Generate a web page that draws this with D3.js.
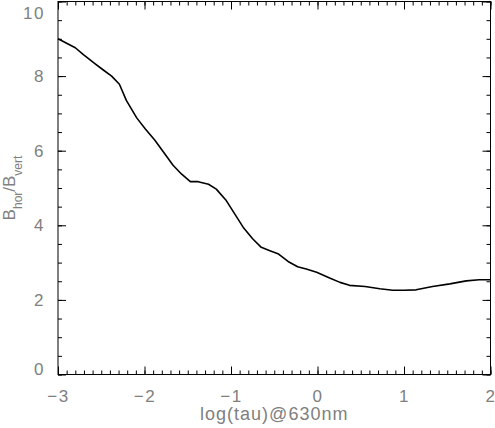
<!DOCTYPE html>
<html>
<head>
<meta charset="utf-8">
<script src="https://cdn.jsdelivr.net/npm/d3@7"></script>
<style>
  body { margin: 0; background: #fff; }
  svg text { font-family: "Liberation Sans", Arial, sans-serif; fill: #808080; }
</style>
</head>
<body>
<div id="container"></div>
<script>
// values
const logTau = [-3.0, -2.80, -2.71, -2.57, -2.48, -2.38, -2.29, -2.21, -2.09, -1.99, -1.88, -1.76, -1.67, -1.57,
  -1.47, -1.38, -1.26, -1.17, -1.06, -0.95, -0.86, -0.75, -0.65, -0.55, -0.45, -0.34, -0.23, -0.13, -0.01,
  0.14, 0.26, 0.37, 0.55, 0.72, 0.87, 1.0, 1.14, 1.33, 1.53, 1.72, 1.87, 2.0];
const ratio = [9.0, 8.76, 8.58, 8.33, 8.17, 8.0, 7.78, 7.35, 6.88, 6.58, 6.28, 5.90, 5.61, 5.37,
  5.17, 5.17, 5.10, 4.97, 4.68, 4.28, 3.95, 3.64, 3.41, 3.32, 3.23, 3.03, 2.89, 2.83, 2.74,
  2.59, 2.47, 2.39, 2.36, 2.30, 2.26, 2.26, 2.27, 2.36, 2.43, 2.51, 2.54, 2.54];
const xTicks = [-3, -2, -1, 0, 1, 2];
const yTicks = [0, 2, 4, 6, 8, 10];

const width = 495, height = 428;
const plotL = 58, plotR = 490.5, plotT = 1.5, plotB = 374.5;

const svg = d3.select("#container")
  .append("svg")
  .attr("width", width)
  .attr("height", height);

let x = d3.scaleLinear().domain([-3, 2]).range([plotL, plotR]);
let y = d3.scaleLinear().domain([0, 10]).range([plotB, plotT]);

let xMinor = d3.range(-30, 21).map(d => d / 10);
let yMinor = d3.range(0, 21).map(d => d / 2);

let styleAxis = g => {
  g.select(".domain").remove();
  g.selectAll("line").attr("stroke", "#000").attr("stroke-width", 1);
};

// minor ticks on all four sides
svg.append("g").attr("transform", `translate(0,${plotB})`)
  .call(d3.axisBottom(x).tickValues(xMinor).tickSize(-4).tickFormat(""))
  .call(styleAxis);
svg.append("g").attr("transform", `translate(0,${plotT})`)
  .call(d3.axisTop(x).tickValues(xMinor).tickSize(-4).tickFormat(""))
  .call(styleAxis);
svg.append("g").attr("transform", `translate(${plotL},0)`)
  .call(d3.axisLeft(y).tickValues(yMinor).tickSize(-4).tickFormat(""))
  .call(styleAxis);
svg.append("g").attr("transform", `translate(${plotR},0)`)
  .call(d3.axisRight(y).tickValues(yMinor).tickSize(-4).tickFormat(""))
  .call(styleAxis);

// major ticks
let fmt = d => d < 0 ? "\u2212" + Math.abs(d) : String(d);
svg.append("g").attr("transform", `translate(0,${plotB})`)
  .call(d3.axisBottom(x).tickValues(xTicks).tickSize(-8).tickPadding(15).tickFormat(fmt))
  .call(styleAxis);
svg.append("g").attr("transform", `translate(0,${plotT})`)
  .call(d3.axisTop(x).tickValues(xTicks).tickSize(-8).tickFormat(""))
  .call(styleAxis);
let yAxisL = svg.append("g").attr("transform", `translate(${plotL},0)`)
  .call(d3.axisLeft(y).tickValues(yTicks).tickSize(-8).tickPadding(13).tickFormat(fmt))
  .call(styleAxis);
svg.append("g").attr("transform", `translate(${plotR},0)`)
  .call(d3.axisRight(y).tickValues(yTicks).tickSize(-8).tickFormat(""))
  .call(styleAxis);

svg.selectAll(".tick text")
  .attr("font-size", 17)
  .attr("letter-spacing", 1.5)
  .attr("fill", "#808080");

// end labels are pushed inside the frame, as in the original
yAxisL.selectAll(".tick text")
  .filter(d => d === 10).attr("dy", "1.0em");
yAxisL.selectAll(".tick text")
  .filter(d => d === 0).attr("dy", "0.02em");

// frame
svg.append("rect")
  .attr("x", plotL).attr("y", plotT)
  .attr("width", plotR - plotL).attr("height", plotB - plotT)
  .attr("fill", "none")
  .attr("stroke", "#000")
  .attr("stroke-width", 1);

// curve
let line = d3.line()
  .x((d, i) => x(logTau[i]))
  .y(d => y(d));

svg.append("path")
  .datum(ratio)
  .attr("d", line)
  .attr("fill", "none")
  .attr("stroke", "#000")
  .attr("stroke-width", 1.6)
  .attr("stroke-linejoin", "round");

// axis titles
svg.append("text")
  .attr("x", (plotL + plotR) / 2)
  .attr("y", 420)
  .attr("text-anchor", "middle")
  .attr("font-size", 18)
  .attr("letter-spacing", 1)
  .text("log(tau)@630nm");

let yt = svg.append("text")
  .attr("transform", `translate(15,${(plotT + plotB) / 2}) rotate(-90)`)
  .attr("text-anchor", "middle")
  .attr("font-size", 17);
yt.append("tspan").text("B");
yt.append("tspan").attr("font-size", 12).attr("dy", 7).text("hor");
yt.append("tspan").attr("dy", -7).text("/B");
yt.append("tspan").attr("font-size", 12).attr("dy", 7).text("vert");
</script>
</body>
</html>
